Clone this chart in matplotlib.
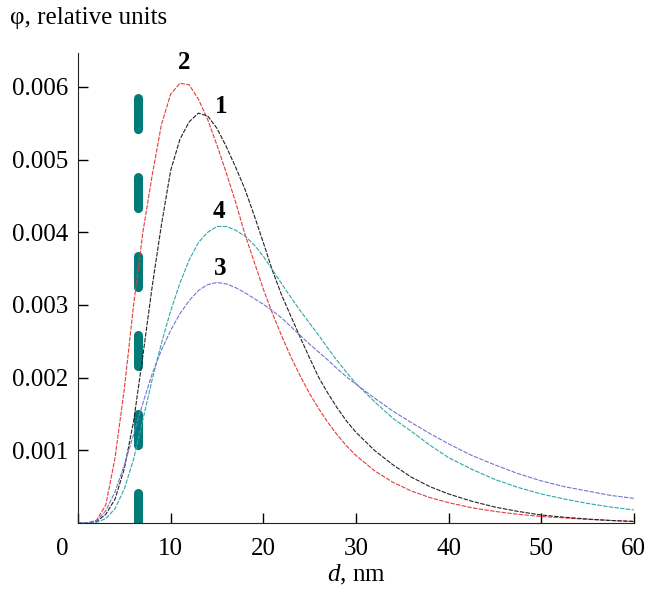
import matplotlib
matplotlib.use("Agg")
import matplotlib.pyplot as plt
from matplotlib.transforms import ScaledTranslation

plt.rcParams["font.family"] = ["Liberation Serif", "DejaVu Serif"]
plt.rcParams["mathtext.fontset"] = "custom"
plt.rcParams["mathtext.rm"] = "Liberation Serif"
plt.rcParams["mathtext.it"] = "Liberation Serif:italic"

# d, nm
d = [0, 1, 2, 3, 4, 5, 6, 7, 8, 9, 10, 11, 12, 13, 14, 15, 16, 17, 18, 19, 20,
     21, 22, 23, 24, 25, 26, 27, 28, 29, 30, 32, 34, 36, 38, 40, 42.5, 45,
     47.5, 50, 52.5, 55, 57.5, 60]

# distributions, x1e-3 relative units
phi_1 = [0, 0, 0.02, 0.12, 0.33, 0.75, 1.4, 2.3, 3.25, 4.1, 4.85, 5.28, 5.52,
         5.64, 5.6, 5.43, 5.18, 4.9, 4.6, 4.24, 3.86, 3.47, 3.13, 2.84, 2.55,
         2.27, 2.0, 1.78, 1.58, 1.4, 1.25, 1.0, 0.8, 0.63, 0.5, 0.4, 0.3, 0.22,
         0.16, 0.11, 0.08, 0.055, 0.035, 0.02]
phi_2 = [0, 0, 0.04, 0.25, 0.9, 1.85, 3.0, 4.0, 4.78, 5.48, 5.9, 6.05, 6.03,
         5.83, 5.55, 5.2, 4.82, 4.42, 3.98, 3.6, 3.22, 2.88, 2.57, 2.28, 2.02,
         1.78, 1.57, 1.38, 1.21, 1.06, 0.93, 0.72, 0.56, 0.44, 0.35, 0.28, 0.21,
         0.16, 0.12, 0.09, 0.07, 0.05, 0.035, 0.025]
phi_3 = [0, 0, 0.03, 0.17, 0.43, 0.8, 1.22, 1.65, 2.05, 2.38, 2.65, 2.88, 3.06,
         3.2, 3.28, 3.31, 3.29, 3.24, 3.17, 3.09, 3.01, 2.92, 2.82, 2.7, 2.58,
         2.46, 2.35, 2.24, 2.12, 2.01, 1.91, 1.72, 1.54, 1.38, 1.23, 1.09, 0.93,
         0.8, 0.68, 0.58, 0.5, 0.44, 0.38, 0.34]
phi_4 = [0, 0, 0.01, 0.06, 0.2, 0.47, 0.88, 1.42, 1.97, 2.47, 2.92, 3.3, 3.62,
         3.86, 4.0, 4.08, 4.08, 4.03, 3.95, 3.83, 3.67, 3.48, 3.29, 3.1, 2.92,
         2.75, 2.58, 2.4, 2.23, 2.07, 1.92, 1.67, 1.44, 1.26, 1.07, 0.9, 0.74,
         0.6, 0.49, 0.4, 0.33, 0.27, 0.22, 0.18]

curve_names = ["1", "2", "3", "4"]
d_marker = 6.45
marker_top = 5.85

fig = plt.figure(figsize=(6.47, 5.93), dpi=100)
ax = fig.add_axes([0.1206, 0.118, 0.859, 0.793])

scale = 1e-3
ls = (0, (4, 1.2))
ax.plot(d, [v * scale for v in phi_2], color="#e83a3a", lw=0.8, ls=ls)
ax.plot(d, [v * scale for v in phi_1], color="#222222", lw=0.8, ls=ls)
ax.plot(d, [v * scale for v in phi_4], color="#2fa8a6", lw=0.8, ls=ls)
ax.plot(d, [v * scale for v in phi_3], color="#7474d2", lw=0.8, ls=ls)

# thick dashed marker line
ax.plot([d_marker, d_marker], [marker_top * scale, 0], color="#007b78",
        lw=6.5, ls=(0, (3.45, 5.3)), solid_capstyle="round",
        dash_capstyle="round", zorder=1)

# curve numbers
label_pos = {"2": (11.5, 6.33), "1": (15.5, 5.73), "4": (15.2, 4.28), "3": (15.4, 3.5)}
for name in curve_names:
    x, y = label_pos[name]
    ax.text(x, y * scale, name, fontsize=18, fontweight="bold", ha="center", va="center")

ax.set_xlim(0, 60)
ax.set_ylim(0, 0.00647)
ax.set_xticks([0, 10, 20, 30, 40, 50, 60])
ax.set_xticklabels(["0", "10", "20", "30", "40", "50", "60"])
ax.set_yticks([0.001, 0.002, 0.003, 0.004, 0.005, 0.006])
ax.set_yticklabels(["0.001", "0.002", "0.003", "0.004", "0.005", "0.006"])
ax.tick_params(axis="x", direction="in", length=7, width=1, labelsize=18, pad=11)
ax.tick_params(axis="y", direction="in", length=7, width=1, labelsize=18, pad=7)
ax.spines["top"].set_visible(False)
ax.spines["right"].set_visible(False)
for s in ["left", "bottom"]:
    ax.spines[s].set_color("#222222")

lab0 = ax.get_xticklabels()[0]
lab0.set_transform(lab0.get_transform() + ScaledTranslation(-0.16, 0, fig.dpi_scale_trans))

ax.set_xlabel("$d$, nm", fontsize=18, labelpad=2)
fig.text(10 / 647, 1 - 18 / 593, "φ, relative units", fontsize=18, va="center", ha="left")

fig.savefig("out.png", dpi=100)
